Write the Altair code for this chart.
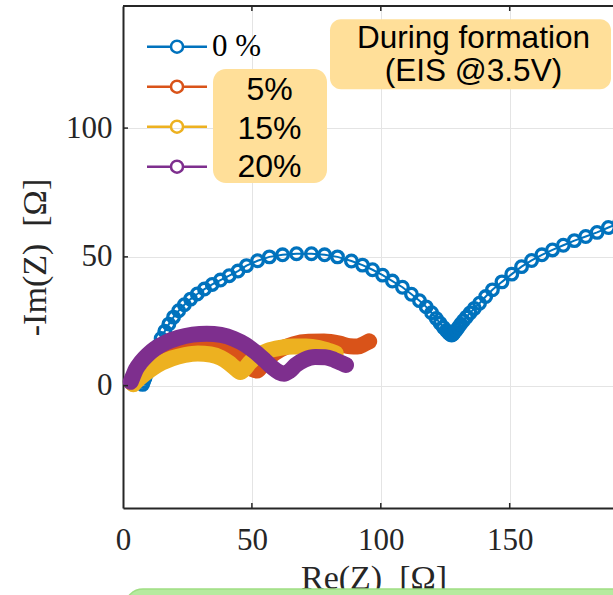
import altair as alt
import pandas as pd

# ---------------- data ----------------
series_names = ["0 %", "5 %", "15 %", "20 %"]
series_colors = ["#0072BD", "#D95319", "#EDB120", "#7E2F8E"]

blue_x = [7.6, 8.0, 8.5, 9.1, 9.8, 10.6, 11.5, 12.5, 13.6, 14.8, 16.2, 17.8, 19.6, 21.6, 23.8,
          26.2, 28.8, 31.6, 34.6, 37.8, 41.2, 44.6, 47.9, 52.2, 56.8, 61.9, 67.3, 73.1, 78.2,
          83.2, 88.6, 92.9, 96.8, 100.7, 104.5, 108.4, 111.9, 115.0, 117.6, 119.7, 121.5,
          123.0, 124.3, 125.4, 126.3, 127.0, 127.5, 128.0, 128.6, 129.3, 130.1, 131.0, 132.0,
          133.2, 134.6, 136.3, 138.3, 140.7, 143.3, 147.0, 150.8, 154.6, 158.5, 162.5, 166.6,
          170.8, 175.1, 179.5, 183.9, 188.3, 192.7]
blue_y = [0.5, 1.6, 2.9, 4.5, 6.3, 8.3, 10.5, 12.9, 15.5, 18.3, 21.1, 23.9, 26.6, 29.1, 31.4,
          33.6, 35.6, 37.5, 39.3, 41.0, 42.7, 44.5, 46.6, 48.5, 50.0, 50.8, 51.2, 51.2, 50.8,
          50.0, 48.4, 46.8, 45.0, 42.9, 40.6, 38.2, 35.5, 33.0, 30.6, 28.3, 26.1,
          24.2, 22.6, 21.4, 20.5, 19.9, 19.7, 20.0, 20.7, 21.6, 22.7, 23.9, 25.2,
          26.6, 28.2, 30.0, 32.0, 34.6, 37.2, 40.3, 43.3, 46.2, 48.6, 50.8, 52.7,
          54.5, 56.3, 57.9, 59.5, 61.4, 63.3]

orange_x = [3.5, 5.0, 7.0, 9.5, 12.5, 16.0, 20.0, 25.0, 30.0, 35.0, 39.5, 43.0, 46.0, 48.5,
            50.5, 52.0, 54.0, 57.0, 61.0, 66.0, 72.0, 78.0, 84.0, 88.0, 91.0, 93.5, 95.5]
orange_y = [1.0, 3.5, 6.2, 8.8, 11.3, 13.5, 15.3, 16.7, 17.3, 17.0, 15.6, 13.4, 10.8, 8.3,
            6.3, 5.9, 8.0, 11.2, 14.0, 16.0, 17.0, 17.1, 16.3, 15.3, 15.2, 16.2, 17.2]

yellow_x = [4.0, 6.0, 8.5, 11.5, 15.0, 19.0, 24.0, 29.0, 34.0, 38.0, 41.0, 43.5, 45.5, 47.0,
            49.0, 52.0, 56.0, 61.0, 66.0, 71.0, 76.0, 79.5, 82.5]
yellow_y = [0.5, 2.5, 4.6, 6.8, 8.9, 10.6, 11.9, 12.5, 12.1, 10.8, 8.9, 6.8, 5.3, 6.3,
            8.8, 11.5, 13.5, 14.7, 15.2, 15.2, 14.6, 13.6, 12.6]

purple_x = [3.0, 3.8, 5.0, 7.0, 9.5, 12.5, 16.5, 21.5, 27.0, 32.5, 38.0, 43.0, 47.5, 51.5,
            55.0, 58.0, 60.5, 62.5, 64.5, 67.0, 70.5, 74.5, 78.5, 82.0, 85.0, 86.5]
purple_y = [1.5, 3.5, 6.3, 9.2, 11.9, 14.4, 16.7, 18.6, 19.8, 20.2, 19.7, 18.2, 15.9, 12.9,
            9.8, 7.0, 5.2, 4.6, 5.6, 8.0, 10.1, 11.1, 11.0, 10.0, 8.7, 8.0]

x_ticks = [0, 50, 100, 150]
y_ticks = [0, 50, 100]
inner_x_ticks = [50, 100, 150]

box1_lines = ["During formation", "(EIS @3.5V)"]
box2_lines = ["5%", "15%", "20%"]

# ---------------- layout / style ----------------
W, H = 490, 502
X_DOMAIN = [0, 190.07]
Y_DOMAIN = [-47.5, 147.4]
AX = "#262626"
YEL = "#FFDF99"
GRID = "#e4e4e4"


def sdf(name, xs, ys):
    return pd.DataFrame({"re": xs, "im": ys, "series": name, "i": list(range(len(xs)))})


d_blue = sdf(series_names[0], blue_x, blue_y)
d_orange = sdf(series_names[1], orange_x, orange_y)
d_yellow = sdf(series_names[2], yellow_x, yellow_y)
d_purple = sdf(series_names[3], purple_x, purple_y)

xscale = alt.Scale(domain=X_DOMAIN, nice=False, zero=False)
yscale = alt.Scale(domain=Y_DOMAIN, nice=False, zero=False)

x_axis = alt.Axis(values=x_ticks, title="Re(Z)\u2002[\u03a9]", grid=True, gridColor=GRID,
                  gridWidth=1, domainColor=AX, domainWidth=2, ticks=False,
                  labelFont="Liberation Serif", labelFontSize=31, labelColor=AX,
                  labelPadding=17, labelFlush=False, labelOverlap=False,
                  titleFont="Liberation Serif", titleFontSize=34, titleFontWeight="normal",
                  titleColor=AX, titleX=250.5, titleY=80, titleAlign="center",
                  titleBaseline="alphabetic")
y_axis = alt.Axis(values=y_ticks, title="-Im(Z)\u2002[\u03a9]", grid=True, gridColor=GRID,
                  gridWidth=1, domainColor=AX, domainWidth=2, ticks=False,
                  labelFont="Liberation Serif", labelFontSize=31, labelColor=AX,
                  labelPadding=11, labelFlush=False, labelOverlap=False,
                  titleFont="Liberation Serif", titleFontSize=34, titleFontWeight="normal",
                  titleColor=AX, titleAngle=270, titleX=-78, titleY=251,
                  titleAlign="center", titleBaseline="alphabetic")

X = alt.X("re:Q", scale=xscale, axis=x_axis)
Y = alt.Y("im:Q", scale=yscale, axis=y_axis)

SYM = "M-1,0L-0.2,0M0.2,0L1,0M0.2,0A0.2,0.2,0,1,1,-0.2,0A0.2,0.2,0,1,1,0.2,0"
legend = alt.Legend(orient="none", legendX=22.5, legendY=20.7, title=None,
                    direction="vertical", symbolType=SYM, symbolSize=3600,
                    symbolStrokeWidth=2.5, labelFont="Liberation Serif", labelFontSize=31,
                    labelColor="#000000", labelOffset=3.5, clipHeight=40, rowPadding=0,
                    padding=0, labelLimit=300,
                    labelExpr="datum.label == '0 %' ? datum.label : ''")

blue_line = alt.Chart(d_blue).mark_line(color=series_colors[0], strokeWidth=2).encode(
    x=X, y=Y, order="i:Q")
blue_pts = alt.Chart(d_blue).mark_point(shape="circle", filled=False, size=135,
                                        strokeWidth=3.3, opacity=1).encode(
    x=X, y=Y,
    color=alt.Color("series:N", scale=alt.Scale(domain=series_names, range=series_colors),
                    legend=legend))


def band(df, col):
    return alt.Chart(df).mark_line(color=col, strokeWidth=16, strokeCap="round",
                                   strokeJoin="round", interpolate="monotone").encode(
        x=X, y=Y, order="i:Q")


one = pd.DataFrame({"k": [0]})
frame_top = alt.Chart(one).mark_rule(color=AX, strokeWidth=2).encode(
    x=alt.value(0), x2=alt.value(W), y=alt.value(0))
tdx = pd.DataFrame({"re": inner_x_ticks})
tdy = pd.DataFrame({"im": y_ticks})
ticks_bottom = alt.Chart(tdx).mark_rule(color=AX, strokeWidth=1.5).encode(
    x=X, y=alt.value(H), y2=alt.value(H - 5))
ticks_top = alt.Chart(tdx).mark_rule(color=AX, strokeWidth=1.5).encode(
    x=X, y=alt.value(0), y2=alt.value(5))
ticks_left = alt.Chart(tdy).mark_rule(color=AX, strokeWidth=1.5).encode(
    y=Y, x=alt.value(0), x2=alt.value(5))

box1 = alt.Chart(one).mark_rect(color=YEL, cornerRadius=11).encode(
    x=alt.value(207), x2=alt.value(488), y=alt.value(13.3), y2=alt.value(83.3))
box1_text = alt.Chart(one).mark_text(font="Liberation Sans", fontSize=31.5, lineHeight=33,
                                     align="center", baseline="alphabetic",
                                     color="#000000").encode(
    x=alt.value(350.5), y=alt.value(41.7), text=alt.value(box1_lines))
box2 = alt.Chart(one).mark_rect(color=YEL, cornerRadius=13).encode(
    x=alt.value(90), x2=alt.value(204), y=alt.value(63), y2=alt.value(177))
box2_text = alt.Chart(one).mark_text(font="Liberation Sans", fontSize=32, lineHeight=38.5,
                                     align="center", baseline="alphabetic",
                                     color="#000000").encode(
    x=alt.value(146.5), y=alt.value(94), text=alt.value(box2_lines))
green = alt.Chart(one).mark_rect(color="#B6EA9F", stroke="#A0DE84", strokeWidth=1.5,
                                 cornerRadius=18).encode(
    x=alt.value(2), x2=alt.value(700), y=alt.value(583), y2=alt.value(660))

chart = alt.layer(
    blue_line, blue_pts,
    band(d_orange, series_colors[1]),
    band(d_yellow, series_colors[2]),
    band(d_purple, series_colors[3]),
    frame_top, ticks_bottom, ticks_top, ticks_left,
    box1, box1_text, box2, box2_text, green,
).properties(
    width=W, height=H,
    padding={"left": 123, "top": 6, "right": 0, "bottom": 87},
    autosize="none",
).configure_view(stroke=None)

chart.save("out.html", embed_options={"renderer": "svg", "actions": False})
